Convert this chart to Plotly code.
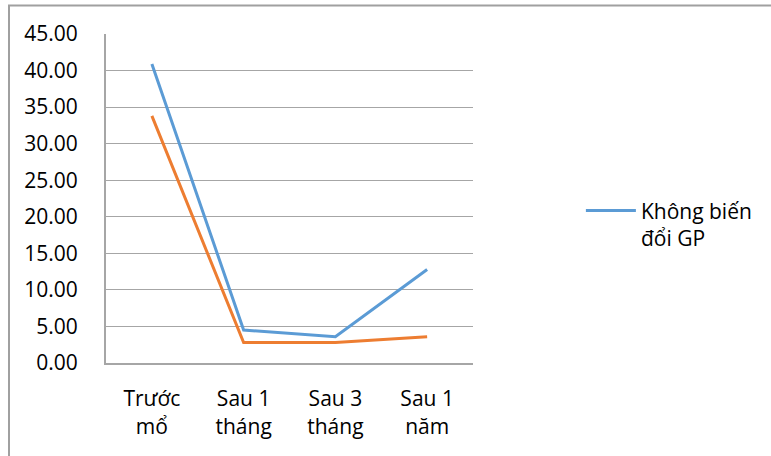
import plotly.graph_objects as go

# Thời điểm theo dõi và giá trị của hai nhóm
categories = ["Trước<br>mổ", "Sau 1<br>tháng", "Sau 3<br>tháng", "Sau 1<br>năm"]
khong_bien_doi = [40.9, 4.5, 3.6, 12.8]
bien_doi = [33.8, 2.8, 2.8, 3.6]
y_ticks = [0, 5, 10, 15, 20, 25, 30, 35, 40, 45]

FONT = "Open Sans"
GRID = "#a6a6a6"

fig = go.Figure()
fig.add_trace(go.Scatter(
    x=categories, y=khong_bien_doi, mode="lines",
    name="Không biến<br>đổi GP",
    line=dict(color="#5b9bd5", width=3),
))
fig.add_trace(go.Scatter(
    x=categories, y=bien_doi, mode="lines",
    name="Biến đổi GP", showlegend=False,
    line=dict(color="#ed7d31", width=3),
))

# Khung viền ngoài của biểu đồ
fig.add_shape(type="rect", xref="paper", yref="paper",
              x0=-0.2643, x1=1.83, y0=-0.30, y1=1.0866,
              line=dict(color="#a0a0a0", width=2), layer="below")

fig.update_layout(
    width=771, height=456,
    margin=dict(l=106, r=298, t=34, b=93),
    paper_bgcolor="white", plot_bgcolor="white",
    font=dict(family=FONT, size=21, color="black"),
    showlegend=True,
    legend=dict(x=1.294, y=0.525, xanchor="left", yanchor="top",
                valign="top", itemwidth=50,
                font=dict(family=FONT, size=21, color="black"),
                bgcolor="rgba(0,0,0,0)"),
    xaxis=dict(type="category", range=[-0.5, 3.5],
               showgrid=False, showline=True, linecolor=GRID, linewidth=2,
               ticks="", ticklabelstandoff=16,
               tickfont=dict(family=FONT, size=21)),
    yaxis=dict(range=[0, 45], tickvals=y_ticks, tickformat=".2f",
               showgrid=True, gridcolor=GRID, gridwidth=1,
               showline=True, linecolor=GRID, linewidth=2,
               zeroline=False, ticks="", ticklabelstandoff=22,
               tickfont=dict(family=FONT, size=21)),
)

fig.write_html("out.html")
